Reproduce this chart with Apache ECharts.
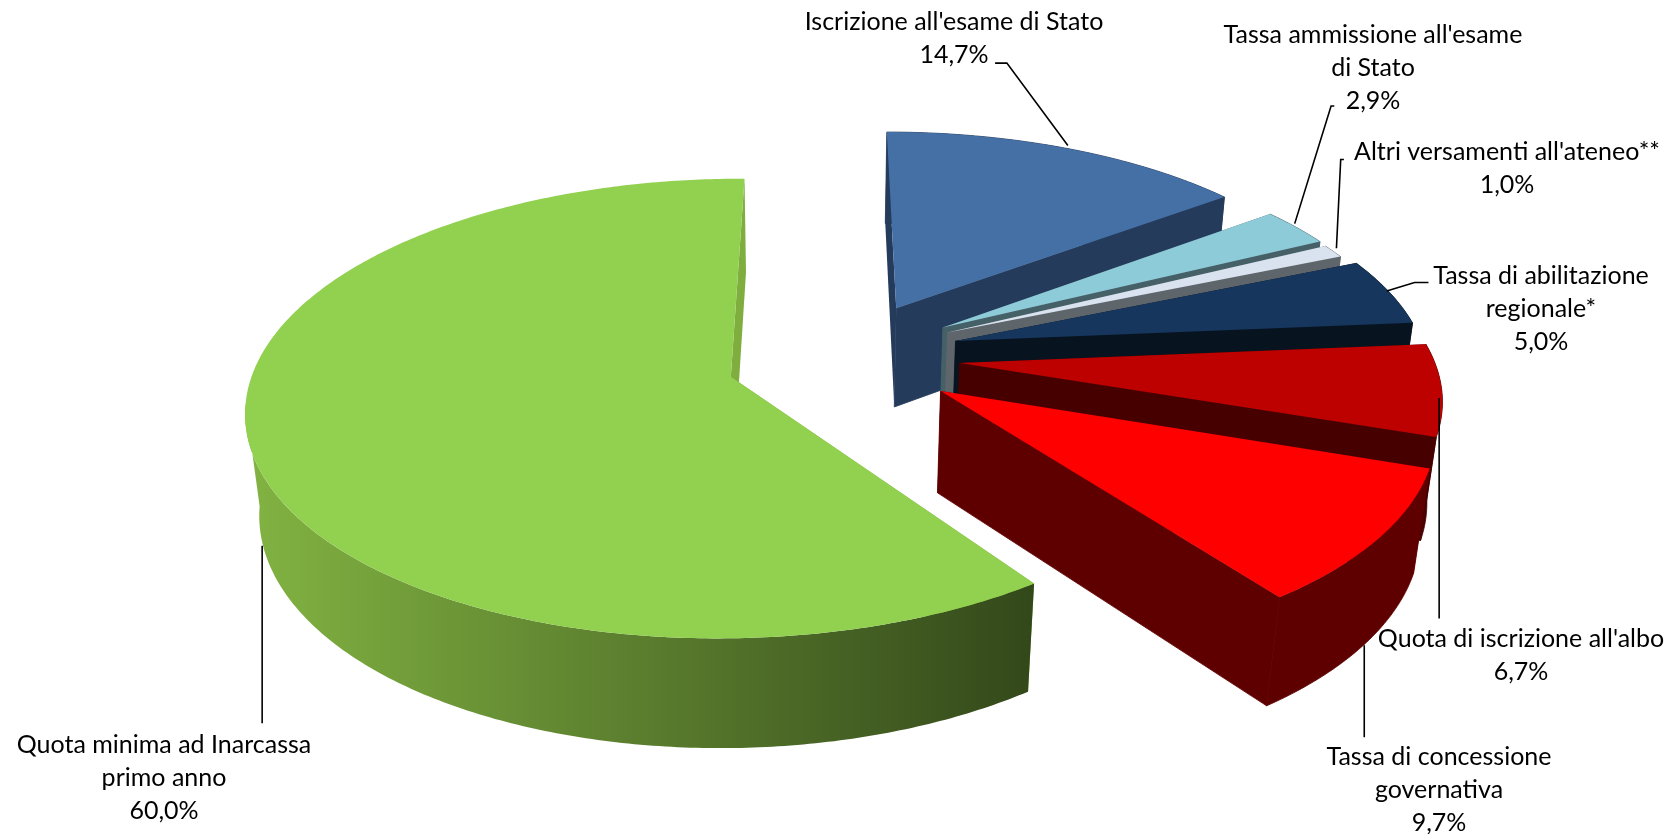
<!DOCTYPE html>
<html><head><meta charset="utf-8">
<style>html,body{margin:0;padding:0;background:#fff}#c{width:1677px;height:834px}</style>
<script src="https://cdn.jsdelivr.net/npm/echarts@6/dist/echarts.min.js"></script>
</head><body><div id="c"></div>
<script>
const categories = ["Iscrizione all'esame di Stato","Tassa ammissione all'esame\ndi Stato","Altri versamenti all'ateneo**","Tassa di abilitazione\nregionale*","Quota di iscrizione all'albo","Tassa di concessione\ngovernativa","Quota minima ad Inarcassa\nprimo anno"];
const values = [14.7,2.9,1.0,5.0,6.7,9.7,60.0];
const valueLabels = ["14,7%","2,9%","1,0%","5,0%","6,7%","9,7%","60,0%"];
const topColors = ['#4470a6','#8ecbd9','#d9e3f0','#17365d','#bd0000','#ff0000','#92d050'];
const wallColors = ['#243b5b','#466068','#5f666b','#07141f','#470000','#5f0000','#7fae3f'];
// apex of each slice on the ground plane (explosion), u right, v toward viewer
const apexU = [81,125,129,136,138,118,-77];
const apexV = [-145,-103,-92,-74,-28,29,0];
const radius = [440,438,438,445,448,452,458];
const radiusStretchU = [1,1,1,1,1,1,0.978];
const angleShift = [0,0,0,0,0,0,0.5];

const S=1.07,X0=760,Y0=352,P=0.000303,K=0.46,H=97,Q=0.025,START=0;
function proj(u,v,down){
  const s=1/(1-P*v+(down?Q:0));
  return [(X0+u*s)*S, (Y0+(K*v+(down?H:0))*s)*S];
}
const sum=values.reduce((a,b)=>a+b,0);
const chart=echarts.init(document.getElementById('c'));
function renderItem(params,api){
  const i=params.dataIndex;
  let a0=START+angleShift[i]; for(let j=0;j<i;j++) a0+=values[j]/sum*360;
  const a1=a0+api.value(1)/sum*360;
  const R=radius[i],au=apexU[i],av=apexV[i];
  const pt=(deg,down)=>{const t=deg*Math.PI/180;return proj(au+R*radiusStretchU[i]*Math.sin(t),av-R*Math.cos(t),down);};
  const apex=d=>proj(au,av,d);
  const n=Math.max(8,Math.round((a1-a0)*1.5));
  const arcTop=[],arcBot=[];
  for(let k=0;k<=n;k++){const a=a0+(a1-a0)*k/n;arcTop.push(pt(a,false));arcBot.push(pt(a,true));}
  const isGreen=i===6;
  const wallFill=isGreen?{type:'linear',x:0,y:0,x2:1,y2:0,colorStops:[{offset:0,color:'#82b342'},{offset:1,color:'#33481a'}]}:wallColors[i];
  const keep=isGreen?Math.round(n*(263-a0)/(a1-a0)):n;
  const seam=isGreen?{}:{stroke:wallColors[i],lineWidth:0.8};
  const kids=[
    {type:'polygon',shape:{points:[apex(false),arcTop[0],arcBot[0],apex(true)]},style:{fill:wallColors[i]}},
    {type:'polygon',shape:{points:[apex(false),arcTop[n],arcBot[n],apex(true)]},style:Object.assign({fill:wallColors[i]},seam)},
    {type:'polygon',shape:{points:arcTop.slice(0,keep+1).concat(arcBot.slice(0,keep+1).reverse())},style:Object.assign({fill:wallFill},seam)},
    {type:'polygon',shape:{points:[apex(false)].concat(arcTop)},style:{fill:topColors[i]}}
  ];
  return {type:'group',children:kids};
}
const labelPos=[[954,5],[1373,18],[1507,135],[1541,259],[1521,622],[1439,740],[164,728]];
const leaders=[
 [[930,59],[941,59],[998,136]],
 [[1247,99],[1244,99],[1210,209]],
 [[1256,149],[1253,149],[1249,232]],
 [[1335,264],[1322,264],[1296,272]],
 [[1345,578],[1345,372]],
 [[1275,689],[1275,603]],
 [[245,676],[245,510]]
];
const graphics=[];
leaders.forEach(l=>graphics.push({type:'polyline',shape:{points:l.map(p=>[p[0]*S,p[1]*S])},style:{stroke:'#000',lineWidth:1.6,fill:null},z:10}));
categories.forEach((c,i)=>graphics.push({type:'text',x:labelPos[i][0],y:labelPos[i][1],z:11,style:{text:c+'\n'+valueLabels[i],fill:'#000',font:'25px Lato',align:'center',verticalAlign:'top',lineHeight:33}}));
chart.setOption({
  animation:false,
  backgroundColor:'#fff',
  xAxis:{show:false,type:'value',min:0,max:1},yAxis:{show:false,type:'value',min:0,max:1},
  grid:{left:0,right:0,top:0,bottom:0},
  series:[{type:'custom',coordinateSystem:'none',renderItem,encode:{},data:values.map((v,i)=>[i,v,categories[i]]),silent:true}],
  graphic:graphics
});
</script></body></html>
